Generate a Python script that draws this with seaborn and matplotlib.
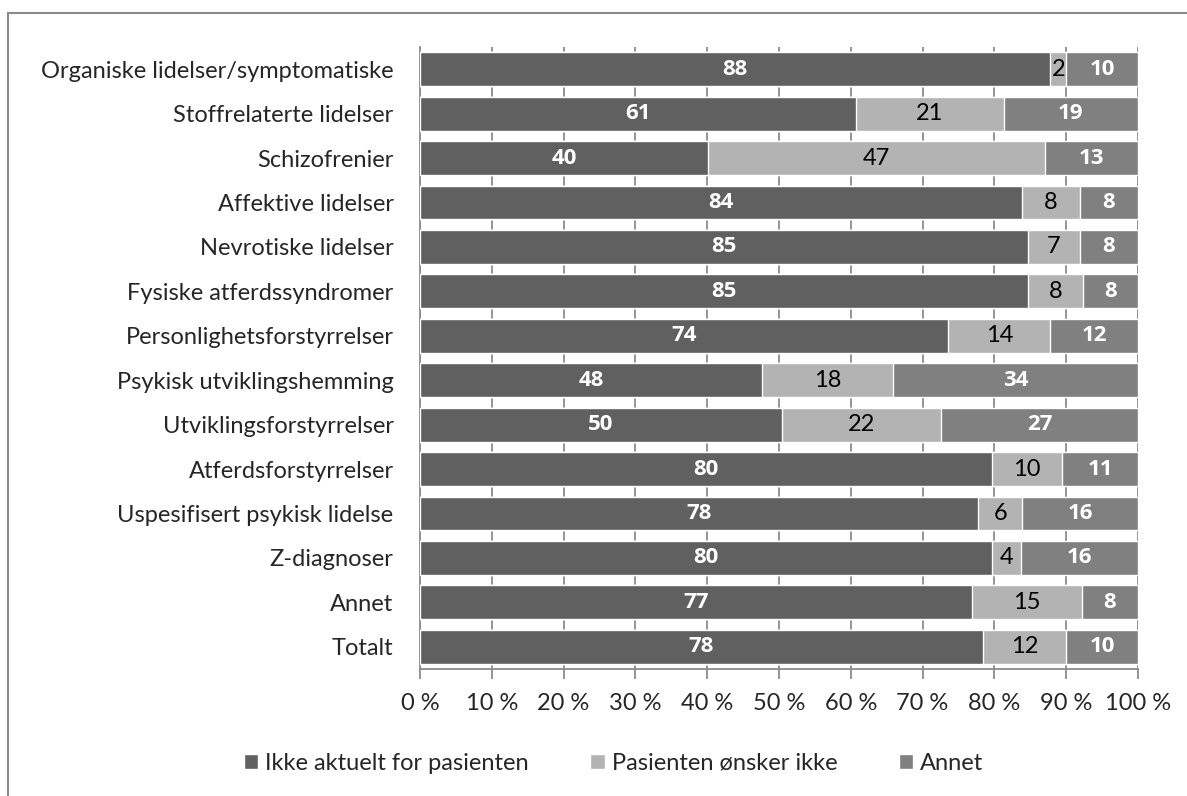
import numpy as np
import pandas as pd
import matplotlib.pyplot as plt
import seaborn as sns
from matplotlib.patches import Rectangle

# Data (percent of patients)
categories = [
    "Organiske lidelser/symptomatiske", "Stoffrelaterte lidelser", "Schizofrenier",
    "Affektive lidelser", "Nevrotiske lidelser", "Fysiske atferdssyndromer",
    "Personlighetsforstyrrelser", "Psykisk utviklingshemming", "Utviklingsforstyrrelser",
    "Atferdsforstyrrelser", "Uspesifisert psykisk lidelse", "Z-diagnoser", "Annet", "Totalt",
]
ikke_aktuelt = [87.8, 60.7, 40.1, 83.8, 84.7, 84.7, 73.6, 47.6, 50.4, 79.7, 77.7, 79.6, 76.9, 78.4]
onsker_ikke = [2.2, 20.6, 47.0, 8.1, 7.2, 7.6, 14.2, 18.3, 22.2, 9.7, 6.2, 4.1, 15.3, 11.6]
annet = [10.0, 18.7, 12.9, 8.1, 8.1, 7.7, 12.2, 34.1, 27.4, 10.6, 16.1, 16.3, 7.8, 10.0]

series_names = ["Ikke aktuelt for pasienten", "Pasienten ønsker ikke", "Annet"]
colors = ["#606060", "#b3b3b3", "#808080"]
label_colors = ["white", "black", "white"]
label_weights = ["bold", "normal", "bold"]

df = pd.DataFrame({"kategori": categories, series_names[0]: ikke_aktuelt,
                   series_names[1]: onsker_ikke, series_names[2]: annet})
cum = df[series_names].cumsum(axis=1)

sns.set_theme(style="white")
plt.rcParams["font.family"] = ["Lato", "DejaVu Sans"]
FS = 17

fig = plt.figure(figsize=(11.87, 7.96), dpi=100)
ax = fig.add_axes([420 / 1187, 1 - 669 / 796, 718 / 1187, 622 / 796])

# stacked bars: draw cumulative totals from the largest down
for name, col in reversed(list(zip(series_names, colors))):
    sns.barplot(x=cum[name], y=df["kategori"], color=col, orient="h",
                width=0.76, saturation=1, ax=ax, label=name, zorder=3)
if ax.get_legend() is not None:
    ax.get_legend().remove()

# value labels centred in each segment
for i in range(len(categories)):
    left = 0
    for name, lc, lw in zip(series_names, label_colors, label_weights):
        v = df.loc[i, name]
        fam = ["Open Sans", "DejaVu Sans"] if lw == "bold" else ["Lato", "DejaVu Sans"]
        ax.text(left + v / 2, i, f"{v:.0f}", ha="center", va="center",
                color=lc, fontweight=lw, fontsize=FS - 1 if lw == "bold" else FS,
                family=fam, zorder=5)
        left += v

ax.set_xlim(0, 100)
ax.set_ylim(len(categories) - 0.5, -0.5)
ax.set_xticks(np.arange(0, 101, 10))
ax.set_xticklabels([f"{t} %" for t in range(0, 101, 10)])
ax.set_xlabel("")
ax.set_ylabel("")
ax.xaxis.grid(True, color="#8c8c8c", linewidth=1.3, zorder=0)
ax.set_axisbelow(True)

for s in ["top", "right"]:
    ax.spines[s].set_visible(False)
for s in ["left", "bottom"]:
    ax.spines[s].set_color("#8c8c8c")
    ax.spines[s].set_linewidth(1.3)

# y ticks sit at category boundaries, labels centred on the bars
ax.set_yticks(np.arange(len(categories)))
ax.set_yticklabels(categories)
ax.set_yticks(np.arange(-0.5, len(categories)), minor=True)
ax.tick_params(axis="y", which="major", length=0, pad=19, labelsize=FS)
ax.tick_params(axis="y", which="minor", length=6, color="#8c8c8c", width=1.3, direction="out")
ax.tick_params(axis="x", which="major", length=7, color="#8c8c8c", width=1.3,
               direction="out", pad=10, labelsize=FS, bottom=True)

# legend in series order
handles, labels = ax.get_legend_handles_labels()
order = [labels.index(n) for n in series_names]
fig.legend([handles[k] for k in order], [labels[k] for k in order],
           loc="center", bbox_to_anchor=(0.517, 0.041), ncol=3, frameon=False,
           fontsize=FS, handlelength=0.6, handleheight=0.6, handletextpad=0.3,
           columnspacing=2.6)

# outer chart border (right and bottom edges run off the image)
fig.patches.append(Rectangle((8 / 1187, -10 / 796), 1200 / 1187, 793 / 796,
                             transform=fig.transFigure, fill=False,
                             edgecolor="#8c8c8c", linewidth=1.5))

fig.savefig("out.png", dpi=100)
